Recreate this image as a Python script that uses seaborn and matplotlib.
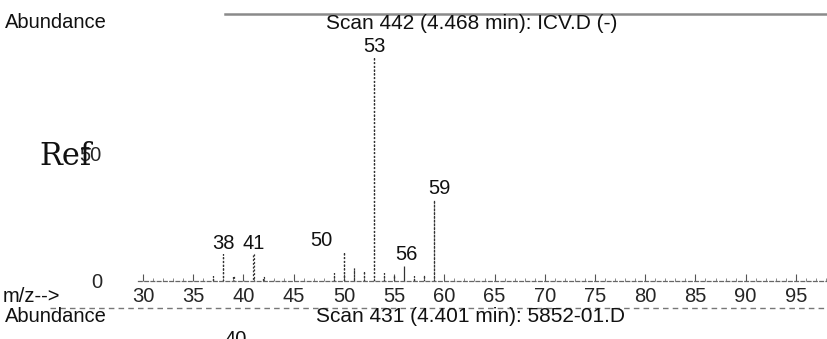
import matplotlib
matplotlib.use("Agg")
import numpy as np
import pandas as pd
import seaborn as sns
import matplotlib.pyplot as plt
from matplotlib.lines import Line2D
from matplotlib.ticker import MultipleLocator

# ---- data ----
mz = [37, 38, 39, 41, 42, 49, 50, 51, 52, 53, 54, 55, 56, 57, 58, 59]
abundance = [2, 10.5, 2, 10.5, 1.5, 3, 11.5, 5, 4, 88, 3, 2.5, 6, 2, 2.5, 32]
labeled_mz = [38, 41, 50, 53, 56, 59]
x_ticks = [30, 35, 40, 45, 50, 55, 60, 65, 70, 75, 80, 85, 90, 95]
y_ticks = [0, 50]
top_title = "Scan 442 (4.468 min): ICV.D (-)"
bottom_title = "Scan 431 (4.401 min): 5852-01.D"
y_label = "Abundance"
x_label = "m/z-->"
ref_text = "Ref"
next_peak_label = "40"

label_offsets = {50: (-16, 0), 59: (4, 0), 56: (2, 0)}

sns.set_theme(style="white")
plt.rcParams['font.family'] = ['Liberation Sans', 'DejaVu Sans']

df = pd.DataFrame({"mz": mz, "abundance": abundance})

W, H = 828, 339
fig = plt.figure(figsize=(W / 100, H / 100), dpi=100)
ax = fig.add_axes([138 / W, 58 / H, 690 / W, 267 / H])

sns.histplot(data=df, x="mz", weights="abundance", discrete=True, shrink=0.02,
             fill=False, color="#333333", edgecolor="#333333", linewidth=0.9,
             linestyle=(0, (1.5, 1.5)), ax=ax)

ax.set_xlim(29.5, 98.2)
ax.set_ylim(0, 105)
ax.set_xlabel("")
ax.set_ylabel("")

ax.set_xticks(x_ticks)
ax.xaxis.set_minor_locator(MultipleLocator(1))
ax.tick_params(axis="x", which="major", direction="in", length=5, width=0.8,
               color="#555555", labelsize=14.5, pad=4, bottom=True)
ax.tick_params(axis="x", which="minor", direction="in", length=2.5, width=0.6,
               color="#777777", bottom=True)
ax.set_yticks(y_ticks)
ax.tick_params(axis="y", length=0, labelsize=14.5, pad=26)

for s in ["left", "right"]:
    ax.spines[s].set_visible(False)
ax.spines["bottom"].set_color("#666666")
ax.spines["bottom"].set_linestyle((0, (3, 2)))
ax.spines["bottom"].set_linewidth(0.9)
ax.spines["top"].set_color("#8a8a8a")
ax.spines["top"].set_linewidth(1.8)
ax.spines["top"].set_bounds(38.2, 98.2)

lookup = dict(zip(mz, abundance))
for m in labeled_mz:
    dx, dy = label_offsets.get(m, (0, 0))
    ax.annotate(str(m), xy=(m, lookup[m]), xytext=(dx, 4 + dy),
                textcoords="offset points", ha="center", va="baseline",
                fontsize=14.5, color="#111111")

ax.text(0.483, 1.0, top_title, transform=ax.transAxes, ha="center",
        va="top", fontsize=15, color="#111111")
fig.text(5 / W, 1 - 22 / H, y_label, ha="left", va="center", fontsize=14.5,
         color="#111111")
fig.text(39 / W, 1 - 156 / H, ref_text, ha="left", va="center", fontsize=22,
         family=["DejaVu Serif"], color="#111111")
fig.text(3 / W, 1 - 297 / H, x_label, ha="left", va="center", fontsize=14.5,
         color="#111111")

# start of the next spectrum below
fig.add_artist(Line2D([50 / W, 1.0], [1 - 308 / H, 1 - 308 / H],
                      transform=fig.transFigure, color="#777777",
                      linewidth=1.0, linestyle=(0, (4, 3))))
fig.text(5 / W, 1 - 317 / H, y_label, ha="left", va="center", fontsize=14.5,
         color="#111111")
fig.text(471 / W, 1 - 317 / H, bottom_title, ha="center", va="center",
         fontsize=15, color="#111111")
fig.text(236 / W, 1 - 330 / H, next_peak_label, ha="center", va="top",
         fontsize=14.5, color="#111111")

fig.savefig("out.png", dpi=100)
